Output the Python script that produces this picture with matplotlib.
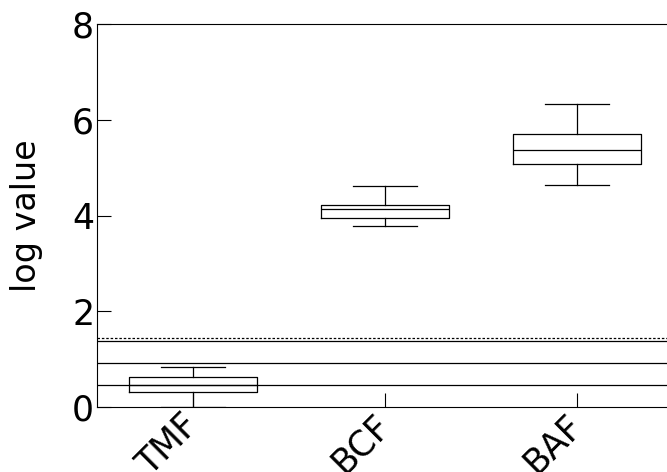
import matplotlib
matplotlib.use("Agg")
import matplotlib.pyplot as plt
import matplotlib.transforms as mtransforms

categories = ["TMF", "BCF", "BAF"]
whislo = [0.0, 3.78, 4.64]
q1 = [0.31, 3.95, 5.07]
med = [0.45, 4.13, 5.37]
q3 = [0.63, 4.21, 5.70]
whishi = [0.84, 4.62, 6.33]
hlines_solid = [0.45, 0.91, 1.37]
hline_dashed = [1.435]

fig = plt.figure(figsize=(6.67, 4.72), dpi=100)
# axes extends slightly beyond the right edge of the figure (cropped like the reference)
ax = fig.add_axes([97/667, 1-407/472, (673-97)/667, (407-24)/472])

stats = []
for i, c in enumerate(categories):
    stats.append(dict(label=c, whislo=whislo[i], q1=q1[i], med=med[i],
                      q3=q3[i], whishi=whishi[i], fliers=[]))

lw = 0.9
ax.bxp(stats, positions=range(len(categories)), widths=0.67, showfliers=False,
       boxprops=dict(color="black", linewidth=lw),
       medianprops=dict(color="black", linewidth=lw),
       whiskerprops=dict(color="black", linewidth=lw),
       capprops=dict(color="black", linewidth=lw))

for y in hlines_solid:
    ax.axhline(y, color="black", linewidth=lw)
for y in hline_dashed:
    ax.axhline(y, color="black", linewidth=lw, linestyle=(0, (2, 1.5)))

ax.set_xlim(-0.5, 2.5)
ax.set_ylim(0, 8)
ax.set_yticks([0, 2, 4, 6, 8])
ax.set_xticks(range(len(categories)))
ax.set_xticklabels(categories, rotation=45, ha="right")
ax.tick_params(direction="in", length=10, width=0.8, labelsize=25)
ax.tick_params(axis="y", pad=2)
ax.tick_params(axis="x", pad=0.5)
offset = mtransforms.ScaledTranslation(12/100, 0, fig.dpi_scale_trans)
for lab in ax.get_xticklabels():
    lab.set_transform(lab.get_transform() + offset)
for s in ["left", "bottom", "top", "right"]:
    ax.spines[s].set_linewidth(0.8)
ax.set_ylabel("log value", fontsize=24, labelpad=21)

fig.savefig("out.png", dpi=100)
